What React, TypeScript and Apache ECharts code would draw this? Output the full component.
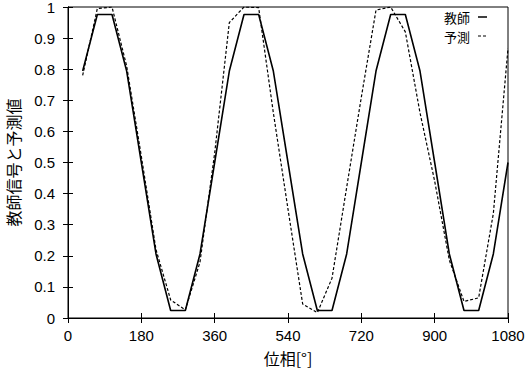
import React, { useEffect, useRef } from "react";
import * as echarts from "echarts";

const phase = [36, 72, 108, 144, 180, 216, 252, 288, 324, 360, 396, 432, 468, 504, 540, 576, 612, 648, 684, 720, 756, 792, 828, 864, 900, 936, 972, 1008, 1044, 1080];
const teacher = [0.794, 0.976, 0.976, 0.794, 0.5, 0.206, 0.024, 0.024, 0.206, 0.5, 0.794, 0.976, 0.976, 0.794, 0.5, 0.206, 0.024, 0.024, 0.206, 0.5, 0.794, 0.976, 0.976, 0.794, 0.5, 0.206, 0.024, 0.024, 0.206, 0.5];
const predicted = [0.78, 0.995, 1.0, 0.81, 0.52, 0.22, 0.058, 0.026, 0.18, 0.53, 0.95, 1.0, 0.998, 0.66, 0.35, 0.045, 0.017, 0.128, 0.42, 0.71, 0.99, 1.0, 0.92, 0.66, 0.44, 0.186, 0.053, 0.065, 0.336, 0.867];
const seriesNames = ["教師", "予測"];
const xTitle = "位相[°]";
const yTitle = "教師信号と予測値";

const latin = "'Liberation Sans', Arial, sans-serif";
const cjk = "'Noto Sans CJK JP', sans-serif";

const dashPattern = [3, 2];

export default function App() {
  const ref = useRef<HTMLDivElement>(null);
  useEffect(() => {
    if (!ref.current) return;
    const chart = echarts.init(ref.current, null, { renderer: "svg" });
    const tickStyle = { show: true, inside: true, length: 5, lineStyle: { color: "#000", width: 1 } };
    const legendItem = (i: number, y: number, dashed: boolean) => [
      {
        type: "text",
        x: 470,
        y: y,
        style: {
          text: seriesNames[i],
          fontFamily: cjk,
          fontSize: 13,
          lineHeight: 13,
          fill: "#000",
          align: "right",
          verticalAlign: "middle",
        },
      },
      {
        type: "line",
        shape: { x1: 478, y1: y, x2: 487, y2: y },
        style: { stroke: "#000", lineWidth: dashed ? 1.1 : 1.5, lineDash: dashed ? dashPattern : null },
      },
    ];
    chart.setOption({
      animation: false,
      backgroundColor: "#fff",
      grid: {
        left: 68,
        right: 19,
        top: 7,
        bottom: 52,
        show: true,
        borderColor: "#000",
        borderWidth: 1,
        outerBoundsMode: "none",
        containLabel: false,
      },
      graphic: [...legendItem(0, 17, false), ...legendItem(1, 36, true)],
      xAxis: [
        {
          type: "value",
          min: 0,
          max: 1080,
          interval: 180,
          name: xTitle,
          nameLocation: "middle",
          nameGap: 32,
          nameTextStyle: { fontFamily: cjk, fontSize: 16, color: "#000" },
          axisLine: { show: true, lineStyle: { color: "#000", width: 1 } },
          axisTick: tickStyle,
          axisLabel: {
            fontFamily: latin,
            fontSize: 15,
            color: "#000",
            margin: 10,
            formatter: (v: number) => String(v),
          },
          splitLine: { show: false },
        },
        {
          type: "value",
          position: "top",
          min: 0,
          max: 1080,
          interval: 180,
          axisLine: { show: true, lineStyle: { color: "#000", width: 1 } },
          axisTick: tickStyle,
          axisLabel: { show: false },
          splitLine: { show: false },
        },
      ],
      yAxis: [
        {
          type: "value",
          min: 0,
          max: 1,
          interval: 0.1,
          name: yTitle,
          nameLocation: "middle",
          nameGap: 47,
          nameTextStyle: { fontFamily: cjk, fontSize: 16, color: "#000" },
          axisLine: { show: true, lineStyle: { color: "#000", width: 1 } },
          axisTick: tickStyle,
          axisLabel: {
            fontFamily: latin,
            fontSize: 15,
            color: "#000",
            margin: 13,
            formatter: (v: number) => String(Math.round(v * 10) / 10),
          },
          splitLine: { show: false },
        },
        {
          type: "value",
          position: "right",
          min: 0,
          max: 1,
          interval: 0.1,
          axisLine: { show: true, lineStyle: { color: "#000", width: 1 } },
          axisTick: tickStyle,
          axisLabel: { show: false },
          splitLine: { show: false },
        },
      ],
      series: [
        {
          name: seriesNames[0],
          type: "line",
          data: phase.map((p, i) => [p, teacher[i]]),
          showSymbol: false,
          symbol: "none",
          lineStyle: { color: "#000", width: 1.6, type: "solid" },
          itemStyle: { color: "#000" },
        },
        {
          name: seriesNames[1],
          type: "line",
          data: phase.map((p, i) => [p, predicted[i]]),
          showSymbol: false,
          symbol: "none",
          lineStyle: { color: "#000", width: 1.2, type: dashPattern },
          itemStyle: { color: "#000" },
        },
      ],
    });
    return () => chart.dispose();
  }, []);
  return (
    <div
      ref={ref}
      style={{ position: "fixed", left: 0, top: 0, width: 527, height: 370, background: "#fff" }}
    />
  );
}
